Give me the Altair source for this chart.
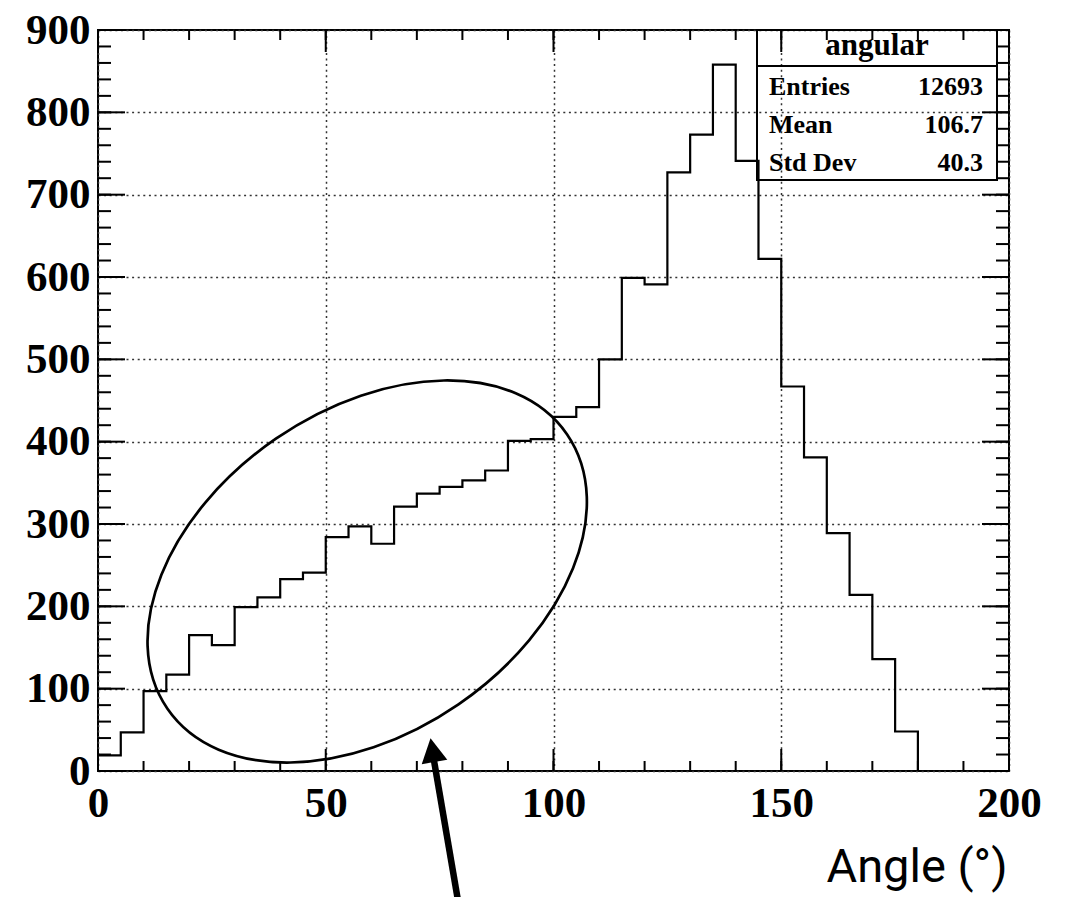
import altair as alt
import pandas as pd

# ---------------- data ----------------
bin_left = list(range(0, 180, 5))
counts = [19, 47, 97, 117, 165, 153, 199, 211, 233, 241,
          284, 297, 276, 321, 337, 345, 353, 365, 401, 403,
          430, 442, 500, 599, 591, 727, 773, 858, 741, 622,
          467, 381, 289, 214, 136, 48]
bin_end = 180
x_major = [0, 50, 100, 150, 200]
x_minor = list(range(0, 201, 10))
y_major = list(range(0, 901, 100))
y_minor = list(range(0, 901, 20))
stat_names = ["Entries", "Mean", "Std Dev"]
stat_values = ["12693", "106.7", "40.3"]
hist_name = "angular"
x_title = "Angle (°)"

# ---------------- layout ----------------
W, H = 911, 741
SERIF = "Liberation Serif"

df = pd.DataFrame({"angle": bin_left + [bin_end], "count": counts + [0]})
one = pd.DataFrame({"k": [0]})

xs = alt.Scale(domain=[0, 200], nice=False, zero=False)
ys = alt.Scale(domain=[0, 900], nice=False, zero=True)

hist = alt.Chart(df).mark_line(
    interpolate="step-after", color="black", strokeWidth=2.2
).encode(
    x=alt.X("angle:Q", scale=xs, axis=alt.Axis(
        orient="bottom", values=x_major, grid=True, ticks=False, domain=False,
        labelPadding=11, labelFlush=False, labelOverlap=False,
        title=x_title, titleX=909, titleY=110, titleAlign="right",
        titleBaseline="alphabetic", titleFont="Roboto", titleFontSize=47,
        titleFontWeight="normal", titleColor="black")),
    y=alt.Y("count:Q", scale=ys, axis=alt.Axis(
        orient="left", values=y_major, grid=True, ticks=False, domain=False,
        labelPadding=8, labelFlush=False, labelOverlap=False, title=None)),
)


# inside tick marks on all four sides, positioned through the shared scales
def x_ticks(vals, size):
    d = pd.DataFrame({"v": vals})
    bottom = alt.Chart(d).mark_rule(color="black", strokeWidth=2).encode(
        x=alt.X("v:Q", scale=xs, axis=None), y=alt.value(H), y2=alt.value(H - size))
    top = alt.Chart(d).mark_rule(color="black", strokeWidth=2).encode(
        x=alt.X("v:Q", scale=xs, axis=None), y=alt.value(0), y2=alt.value(size))
    return [bottom, top]


def y_ticks(vals, size):
    d = pd.DataFrame({"v": vals})
    left = alt.Chart(d).mark_rule(color="black", strokeWidth=2).encode(
        y=alt.Y("v:Q", scale=ys, axis=None), x=alt.value(0), x2=alt.value(size))
    right = alt.Chart(d).mark_rule(color="black", strokeWidth=2).encode(
        y=alt.Y("v:Q", scale=ys, axis=None), x=alt.value(W), x2=alt.value(W - size))
    return [left, right]


ticks = (x_ticks(x_major, 22) + x_ticks(x_minor, 10)
         + y_ticks(y_major, 27) + y_ticks(y_minor, 13))

# ---------------- stats box ----------------
BX0, BX1, BY0, BY1, BYS = 659, 899, 0, 150, 36
box = alt.Chart(one).mark_rect(fillOpacity=0, stroke="black", strokeWidth=2).encode(
    x=alt.value(BX0), x2=alt.value(BX1), y=alt.value(BY0), y2=alt.value(BY1))
sep = alt.Chart(one).mark_rule(color="black", strokeWidth=2).encode(
    x=alt.value(BX0), x2=alt.value(BX1), y=alt.value(BYS))
title_txt = alt.Chart(one).mark_text(
    font=SERIF, fontWeight="bold", fontSize=31, align="center",
    baseline="alphabetic", color="black").encode(
    x=alt.value(779), y=alt.value(25), text=alt.value(hist_name))

stat_layers = []
for i, (n, v) in enumerate(zip(stat_names, stat_values)):
    yb = 65 + 38 * i
    stat_layers.append(alt.Chart(one).mark_text(
        font=SERIF, fontWeight="bold", fontSize=26, align="left",
        baseline="alphabetic", color="black").encode(
        x=alt.value(671), y=alt.value(yb), text=alt.value(n)))
    stat_layers.append(alt.Chart(one).mark_text(
        font=SERIF, fontWeight="bold", fontSize=26, align="right",
        baseline="alphabetic", color="black").encode(
        x=alt.value(885), y=alt.value(yb), text=alt.value(v)))

# ---------------- annotations: ellipse + arrow ----------------
ELLIPSE = "M -1 0 A 1 0.665 0 1 1 1 0 A 1 0.665 0 1 1 -1 0 Z"
ellipse = alt.Chart(one).mark_point(
    shape=ELLIPSE, filled=False, size=235000, angle=325.5,
    stroke="black", strokeWidth=2.7, opacity=1).encode(
    x=alt.XDatum(59.1, axis=None, scale=xs),
    y=alt.YDatum(242.3, axis=None, scale=ys))

shaft = alt.Chart(one).mark_rule(color="black", strokeWidth=6.5).encode(
    x=alt.XDatum(73.6, axis=None, scale=xs), x2=alt.X2Datum(79.2),
    y=alt.YDatum(18.0, axis=None, scale=ys), y2=alt.Y2Datum(-162.8))

HEAD = "M 0 0 L 0.54 1 L -0.54 1 Z"
head = alt.Chart(one).mark_point(
    shape=HEAD, filled=True, size=2304, angle=350.4, color="black", opacity=1).encode(
    x=alt.XDatum(73.0, axis=None, scale=xs),
    y=alt.YDatum(39.7, axis=None, scale=ys))

chart = alt.layer(
    hist, *ticks, box, sep, title_txt, *stat_layers, ellipse, shaft, head
).resolve_axis(
    x="independent", y="independent"
).properties(
    width=W, height=H,
    autosize=alt.AutoSizeParams(type="none"),
    padding={"left": 98, "top": 30, "right": 57, "bottom": 126},
    background="white",
).configure_view(
    stroke="black", strokeWidth=2
).configure_axis(
    labelFont=SERIF, labelFontWeight="bold", labelFontSize=43, labelColor="black",
    gridColor="#333333", gridDash=[2, 3.6], gridWidth=1.5, gridOpacity=1,
)

chart.save("out.html", embed_options={"renderer": "svg", "actions": False})
